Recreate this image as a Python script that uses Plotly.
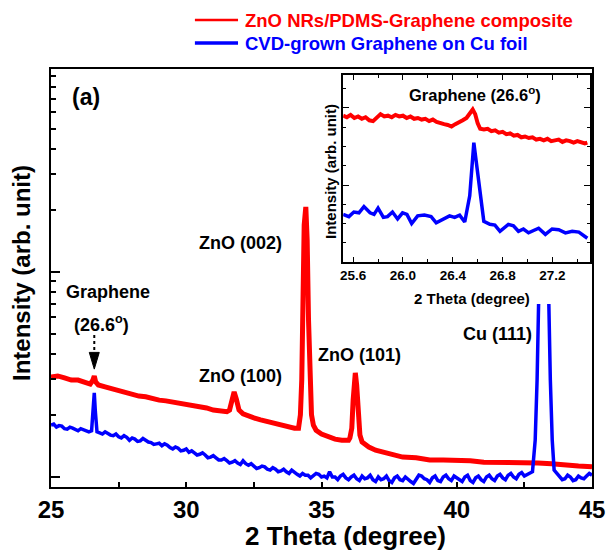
import plotly.graph_objects as go

# ---------------- main panel data (2 theta in degree, intensity in counts) -------------
theta_red = [25.0, 25.25, 25.5, 25.75, 26.0, 26.25, 26.45, 26.55, 26.6, 26.65, 26.75, 27.0, 27.25,
             27.5, 27.75, 28.0, 28.25, 28.5, 28.75, 29.0, 29.25, 29.5, 29.75, 30.0, 30.25, 30.5,
             30.75, 31.0, 31.25, 31.5, 31.6, 31.7, 31.77, 31.85, 31.95, 32.1, 32.25, 32.5, 32.75,
             33.0, 33.25, 33.5, 33.75, 34.0, 34.15, 34.22, 34.27, 34.31, 34.36, 34.42, 34.47, 34.52,
             34.57, 34.63, 34.7, 34.8, 35.0, 35.25, 35.5, 35.75, 36.0, 36.05, 36.12, 36.17, 36.21,
             36.25, 36.3, 36.35, 36.42, 36.5, 36.75, 37.0, 37.25, 37.5, 37.75, 38.0, 38.5, 39.0,
             39.5, 40.0, 40.5, 41.0, 41.5, 42.0, 42.5, 43.0, 43.5, 44.0, 44.5, 45.0]
int_red = [307, 311, 304, 297, 297, 291, 284, 297, 311, 291, 281, 275, 269,
           263, 260, 251, 248, 246, 240, 237, 235, 232, 229, 227, 222, 220,
           217, 212, 210, 208, 212, 243, 260, 240, 212, 203, 199, 194, 190,
           186, 183, 179, 175, 173, 173, 201, 297, 730, 1695, 2075, 1432, 583,
           266, 201, 179, 169, 162, 157, 153, 151, 151, 155, 173, 237, 304,
           322, 281, 201, 160, 148, 140, 135, 132, 129, 127, 125, 124, 121,
           121, 121, 120, 118, 118, 117, 117, 117, 116, 114, 113, 112]

theta_blue = [25.0, 25.1, 25.2, 25.3, 25.4, 25.5, 25.6, 25.7, 25.8, 25.9, 26.0, 26.1, 26.2, 26.3,
              26.4, 26.5, 26.56, 26.6, 26.64, 26.7, 26.8, 26.9, 27.0, 27.1, 27.2, 27.3, 27.4,
              27.5, 27.6, 27.7, 27.8, 27.9, 28.0, 28.1, 28.2, 28.3, 28.4, 28.5, 28.6, 28.7, 28.8,
              28.9, 29.0, 29.1, 29.2, 29.3, 29.4, 29.5, 29.6, 29.7, 29.8, 29.9, 30.0, 30.1, 30.2,
              30.3, 30.4, 30.5, 30.6, 30.7, 30.8, 30.9, 31.0, 31.1, 31.2, 31.3, 31.4, 31.5, 31.6,
              31.7, 31.8, 31.9, 32.0, 32.1, 32.2, 32.3, 32.4, 32.5, 32.6, 32.7, 32.8, 32.9, 33.0,
              33.1, 33.2, 33.3, 33.4, 33.5, 33.6, 33.7, 33.8, 33.9, 34.0, 34.1, 34.2, 34.3, 34.4,
              34.5, 34.6, 34.7, 34.8, 34.9, 35.0, 35.1, 35.2, 35.3, 35.4, 35.5, 35.6, 35.7, 35.8,
              35.9, 36.0, 36.1, 36.2, 36.3, 36.4, 36.5, 36.6, 36.7, 36.8, 36.9, 37.0, 37.1, 37.2,
              37.3, 37.4, 37.5, 37.6, 37.7, 37.8, 37.9, 38.0, 38.1, 38.2, 38.3, 38.4, 38.5, 38.6,
              38.7, 38.8, 38.9, 39.0, 39.1, 39.2, 39.3, 39.4, 39.5, 39.6, 39.7, 39.8, 39.9, 40.0,
              40.1, 40.2, 40.3, 40.4, 40.5, 40.6, 40.7, 40.8, 40.9, 41.0, 41.1, 41.2, 41.3, 41.4,
              41.5, 41.6, 41.7, 41.8, 41.9, 42.0, 42.1, 42.2, 42.3, 42.4, 42.5, 42.6, 42.7, 42.8,
              42.9, 42.97, 43.03, 43.4, 43.46, 43.53, 43.6, 43.7, 43.8, 43.9, 44.0, 44.1, 44.2,
              44.3, 44.4, 44.5, 44.6, 44.7, 44.8, 44.9, 45.0]
int_blue = [179, 181, 175, 178, 177, 172, 171, 175, 173, 170, 168, 172, 170, 167,
            166, 168, 212, 257, 208, 166, 164, 162, 166, 163, 160, 159, 162,
            157, 155, 159, 156, 151, 155, 153, 149, 150, 154, 151, 148, 147, 144,
            145, 146, 142, 145, 143, 139, 137, 140, 138, 134, 135, 137, 132, 134,
            131, 128, 129, 131, 128, 124, 125, 127, 124, 121, 121, 123, 120, 117,
            118, 120, 117, 115, 120, 116, 114, 116, 113, 110, 111, 113, 112, 109,
            108, 111, 109, 106, 107, 109, 106, 104, 108, 105, 103, 101, 104, 102,
            102, 99, 101, 104, 103, 100, 101, 99, 106, 100, 100, 97, 101, 103,
            99, 97, 100, 102, 98, 96, 101, 98, 99, 102, 97, 95, 100, 97,
            98, 101, 96, 94, 99, 101, 97, 96, 100, 98, 95, 93, 98, 102,
            101, 98, 97, 94, 99, 101, 96, 95, 100, 102, 98, 96, 101, 99,
            98, 95, 100, 102, 96, 94, 99, 101, 97, 95, 100, 102, 98, 96,
            101, 103, 99, 97, 102, 104, 100, 98, 103, 105, 101, 103, 104, 106,
            151, 297, 747, 747, 297, 151, 108, 104, 101, 97, 98, 102, 100,
            96, 97, 101, 99, 98, 101, 104, 102]

# ---------------- inset data (2 theta in degree, intensity in arb. unit) ----------------
theta_in_red = [25.52, 25.55, 25.58, 25.61, 25.64, 25.67, 25.70, 25.73, 25.76, 25.79, 25.82,
                25.85, 25.88, 25.91, 25.94, 25.97, 26.00, 26.03, 26.06, 26.09, 26.12, 26.15,
                26.18, 26.21, 26.24, 26.27, 26.30, 26.33, 26.36, 26.39, 26.42, 26.45, 26.48,
                26.51, 26.54, 26.56, 26.58, 26.60, 26.62, 26.65, 26.68, 26.71, 26.74, 26.77,
                26.80, 26.83, 26.86, 26.89, 26.92, 26.95, 26.98, 27.01, 27.04, 27.07, 27.10,
                27.13, 27.16, 27.19, 27.22, 27.25, 27.28, 27.31, 27.34, 27.37, 27.40, 27.43,
                27.46, 27.48]
int_in_red = [190, 188, 191, 187, 189, 186, 188, 184, 183, 187, 192,
              189, 190, 188, 191, 189, 190, 187, 189, 186, 187, 185,
              186, 183, 185, 182, 180, 179, 178, 176, 179, 181, 184,
              187, 194, 198, 192, 180, 173, 172, 173, 170, 171, 168,
              169, 166, 167, 164, 165, 162, 163, 161, 162, 159, 160,
              158, 160, 157, 158, 159, 156, 158, 157, 155, 157, 155,
              154, 155]

theta_in_blue = [25.52, 25.566, 25.606, 25.647, 25.687, 25.736, 25.768, 25.80, 25.843, 25.876,
                 25.916, 25.957, 25.997, 26.032, 26.07, 26.118, 26.172, 26.226, 26.267, 26.32,
                 26.374, 26.415, 26.455, 26.496, 26.536, 26.569, 26.649, 26.698, 26.738, 26.779,
                 26.846, 26.887, 26.927, 26.967, 27.008, 27.089, 27.143, 27.197, 27.25, 27.304,
                 27.358, 27.412, 27.48]
int_in_blue = [62, 59, 65, 64, 72, 64, 62, 70, 58, 59,
               65, 56, 64, 62, 50, 60, 61, 59, 51, 56,
               60, 58, 61, 52, 86, 155, 53, 49, 48, 40,
               49, 47, 40, 43, 38, 44, 36, 43, 42, 38,
               40, 39, 31]

series_names = ["ZnO NRs/PDMS-Graphene composite", "CVD-grown Graphene on Cu foil"]
peak_labels = ["ZnO (002)", "ZnO (100)", "ZnO (101)", "Cu (111)"]
main_xticks = [25, 30, 35, 40, 45]
inset_xticks = [25.6, 26.0, 26.4, 26.8, 27.2]

RED = "#ff0000"
BLUE = "#0000ff"
FONT = "Liberation Sans, Arial, sans-serif"

fig = go.Figure()
fig.add_trace(go.Scatter(x=theta_red, y=int_red, mode="lines", name=series_names[0],
                         line=dict(color=RED, width=5), xaxis="x", yaxis="y"))
fig.add_trace(go.Scatter(x=theta_blue, y=int_blue, mode="lines", name=series_names[1],
                         line=dict(color=BLUE, width=3.5), xaxis="x", yaxis="y"))
fig.add_trace(go.Scatter(x=theta_in_red, y=int_in_red, mode="lines", showlegend=False,
                         line=dict(color=RED, width=4), xaxis="x2", yaxis="y2"))
fig.add_trace(go.Scatter(x=theta_in_blue, y=int_in_blue, mode="lines", showlegend=False,
                         line=dict(color=BLUE, width=3.5), xaxis="x2", yaxis="y2"))

minor_y = [200, 300, 400, 500, 600, 700, 800, 900, 2000, 3000, 4000, 5000, 6000, 7000, 8000, 9000]

fig.update_layout(
    width=608, height=554,
    margin=dict(l=51, r=16, t=69, b=67),
    paper_bgcolor="white", plot_bgcolor="white",
    showlegend=False,
    font=dict(family=FONT, color="black", weight="bold"),
    xaxis=dict(domain=[0, 1], range=[25, 45], tickvals=main_xticks, automargin=False,
               ticks="inside", ticklen=5, tickwidth=1.5, tickcolor="black",
               minor=dict(tickvals=[27.5, 32.5, 37.5, 42.5], ticks="inside", ticklen=5,
                          tickwidth=1.5, tickcolor="black"),
               showline=True, linewidth=2, linecolor="black", mirror=True,
               showgrid=False, zeroline=False, ticklabelstandoff=0,
               tickfont=dict(size=24, family=FONT, weight="bold")),
    yaxis=dict(domain=[0, 1], type="log", range=[1.951, 3.99], automargin=False,
               tickvals=[100, 1000, 10000], showticklabels=False,
               ticks="inside", ticklen=9, tickwidth=1.5, tickcolor="black",
               minor=dict(tickvals=minor_y, ticks="inside", ticklen=5, tickwidth=1.5,
                          tickcolor="black"),
               showline=True, linewidth=2, linecolor="black", mirror=True,
               showgrid=False, zeroline=False),
    xaxis2=dict(domain=[0.540, 0.996], anchor="y2", range=[25.52, 27.5], automargin=False,
                tickvals=inset_xticks, ticktext=["%.1f" % v for v in inset_xticks],
                ticks="inside", ticklen=5, tickwidth=1, tickcolor="black",
                minor=dict(tickvals=[25.8, 26.2, 26.6, 27.0, 27.4], ticks="inside",
                           ticklen=3, tickwidth=1, tickcolor="black"),
                showline=True, linewidth=1.5, linecolor="black", mirror="ticks",
                showgrid=False, zeroline=False,
                tickfont=dict(size=13.5, family=FONT, weight="bold")),
    yaxis2=dict(domain=[0.538, 0.986], anchor="x2", range=[0, 243], automargin=False,
                tickvals=[100, 200], showticklabels=False,
                ticks="inside", ticklen=6, tickwidth=1, tickcolor="black",
                minor=dict(tickvals=[25, 50, 75, 125, 150, 175, 225], ticks="inside",
                           ticklen=3, tickwidth=1, tickcolor="black"),
                showline=True, linewidth=1.5, linecolor="black", mirror="ticks",
                showgrid=False, zeroline=False),
)

def ann(text, x, y, size, xref="paper", yref="paper", color="black", angle=0, xanchor="center"):
    fig.add_annotation(text=text, x=x, y=y, xref=xref, yref=yref, showarrow=False,
                       xanchor=xanchor, yanchor="middle", textangle=angle,
                       font=dict(size=size, color=color, family=FONT, weight="bold"))

# axis titles
ann("Intensity (arb. unit)", -0.0536, 0.512, 24, angle=-90)
ann("2 Theta (degree)", 0.545, -0.117, 26)
# panel label and peak labels
ann("(a)", 26.29, 0.933, 23, xref="x")
ann("Graphene", 27.09, 0.4665, 18, xref="x")
ann("(26.6<sup>o</sup>)", 26.87, 0.392, 18, xref="x")
ann(peak_labels[0], 32.0, 0.584, 18, xref="x")
ann(peak_labels[1], 31.99, 0.2656, 18, xref="x")
ann(peak_labels[2], 36.42, 0.316, 18, xref="x")
ann(peak_labels[3], 41.49, 0.366, 18, xref="x")
# inset texts
ann("Intensity (arb. unit)", 0.5176, 0.7536, 15, angle=-90)
ann("2 Theta (degree)", 0.7775, 0.4498, 15)
ann("Graphene (26.6<sup>o</sup>)", 0.784, 0.940, 16.5)

# legend drawn above the plot
ann(series_names[0], 0.3549, 1.117, 18.5, color=RED, xanchor="left")
ann(series_names[1], 0.3549, 1.062, 18.5, color=BLUE, xanchor="left")
fig.add_shape(type="line", xref="paper", yref="paper", x0=0.266, x1=0.3457, y0=1.117, y1=1.117,
              line=dict(color=RED, width=2.5))
fig.add_shape(type="line", xref="paper", yref="paper", x0=0.266, x1=0.3457, y0=1.062, y1=1.062,
              line=dict(color=BLUE, width=3.5))

# dotted arrow pointing to the graphene peak
fig.add_shape(type="line", xref="x", yref="paper", x0=26.6, x1=26.6, y0=0.3636, y1=0.322,
              line=dict(color="black", width=2, dash="dot"))
fig.add_shape(type="path", xref="x", yref="paper",
              path="M 26.415,0.322 L 26.785,0.322 L 26.6,0.282 Z",
              fillcolor="black", line=dict(color="black", width=1))

# the Cu peak disappears behind the inset panel
fig.add_shape(type="rect", xref="x", yref="paper", x0=42.89, x1=43.74, y0=0.4378, y1=0.4856,
              fillcolor="white", line=dict(width=0), layer="above")

fig.write_html("out.html", config={"displayModeBar": False},
               post_script="document.body.style.margin='0px';document.body.style.overflow='hidden';")
